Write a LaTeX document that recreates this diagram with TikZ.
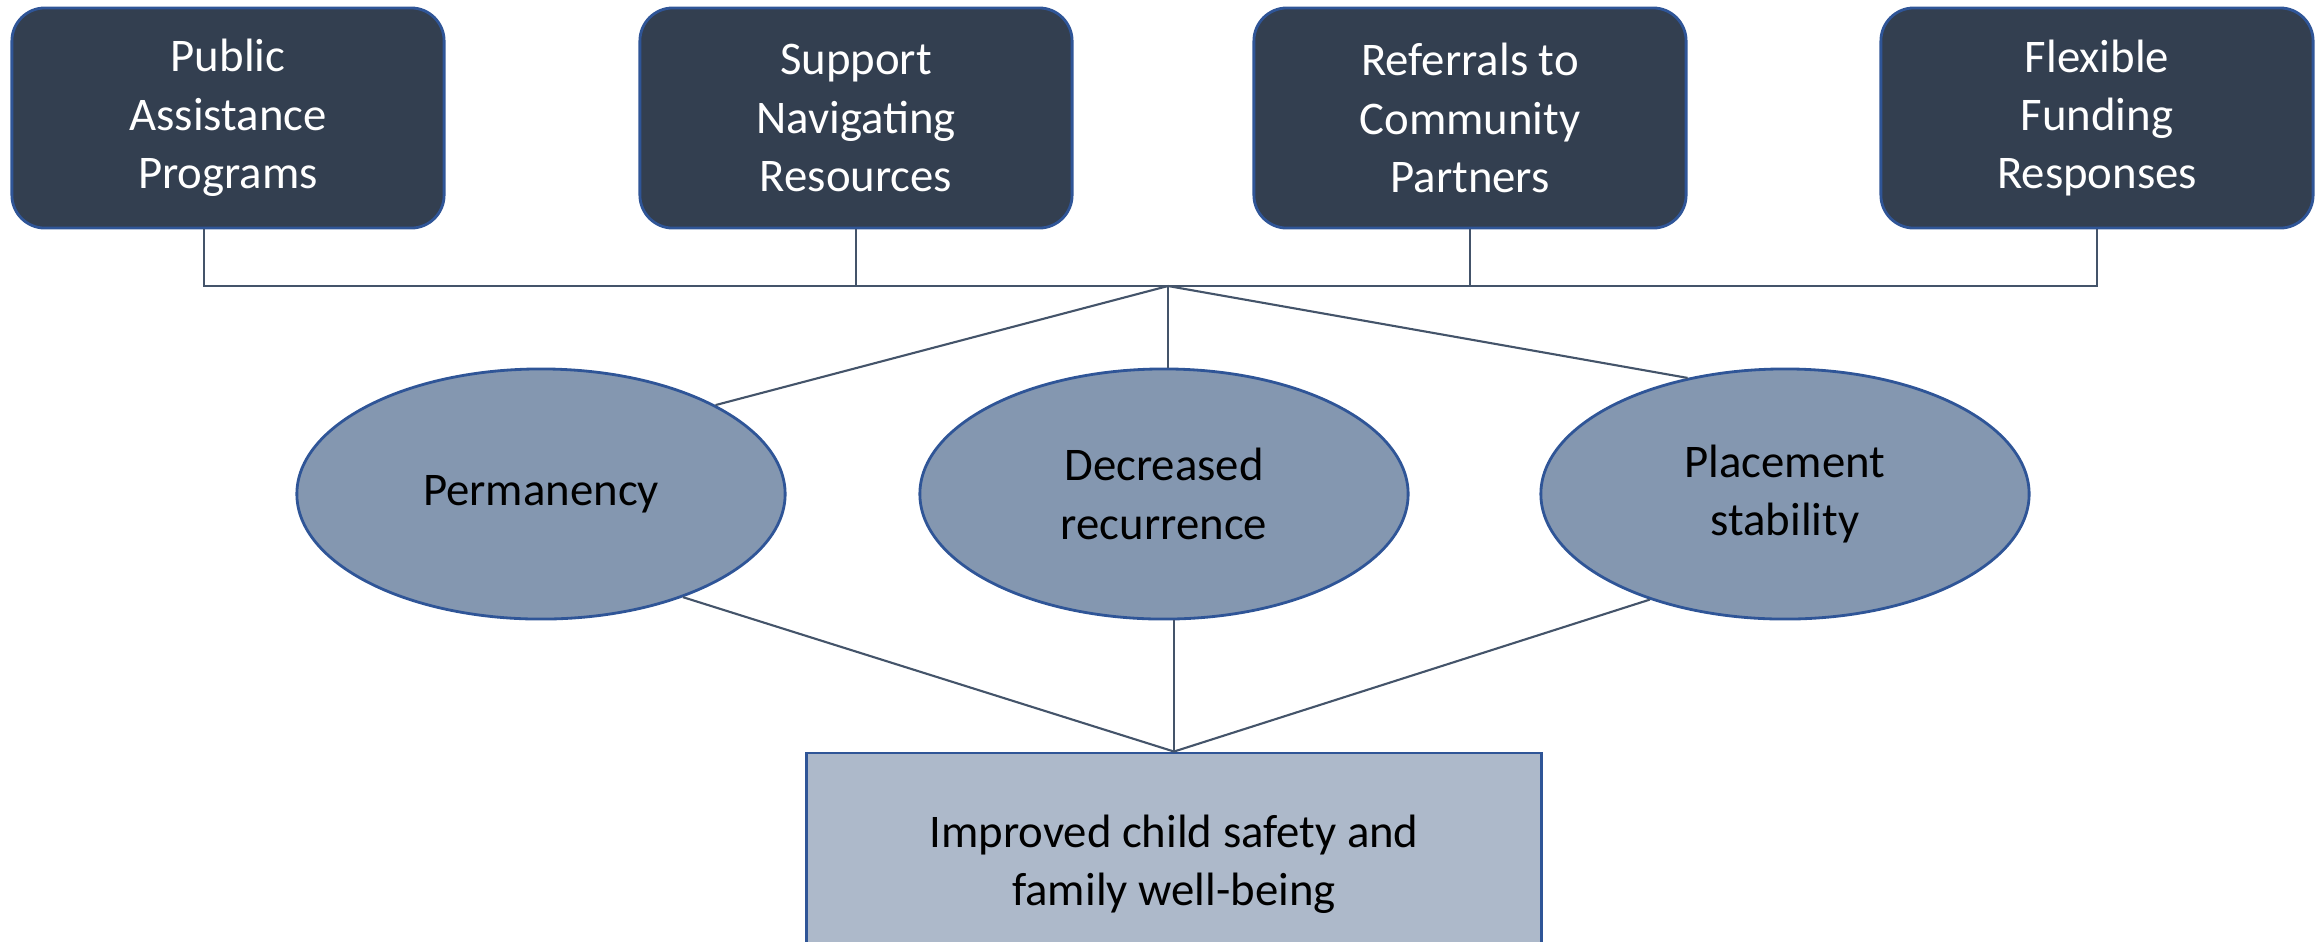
\documentclass[tikz,border=0pt]{standalone}
\usepackage{fontspec}
\setmainfont{Carlito}
\usetikzlibrary{shapes.geometric}
\definecolor{navybox}{HTML}{333F50}
\definecolor{edgeblue}{HTML}{2F5597}
\definecolor{midblue}{HTML}{8497B0}
\definecolor{paleblue}{HTML}{ADB9CA}
\definecolor{linkgray}{HTML}{44546A}
\begin{document}
\begin{tikzpicture}[
		x=0.01cm, y=-0.01cm,
		every node/.style={font=\fontsize{13.3}{16.6}\selectfont, align=center},
		service/.style={rectangle, rounded corners=0.33cm, draw=edgeblue, line width=0.8pt, fill=navybox, text=white, minimum width=4.32cm, minimum height=2.2cm, inner sep=0pt},
		result/.style={ellipse, draw=edgeblue, line width=0.8pt, fill=midblue, minimum width=4.88cm, minimum height=2.5cm, inner sep=0pt},
		goal/.style={rectangle, draw=edgeblue, line width=0.8pt, fill=paleblue, minimum width=7.35cm, minimum height=2.22cm, inner sep=0pt},
		link/.style={-, draw=linkgray, line width=0.6pt}
	]
	\useasboundingbox (0,0) rectangle (2320,941);

	% Services
	\node[service] (pub) at (228,118) {Public\\Assistance\\Programs};
	\node[service] (supp) at (856,118) {Support\\Navigating\\Resources};
	\node[service] (refer) at (1470,118) {Referrals to\\Community\\Partners};
	\node[service] (fund) at (2097,118) {Flexible\\Funding\\Responses};

	% Outcomes
	\node[result] (perm) at (541,494) {Permanency};
	\node[result] (decr) at (1164,494) {Decreased\\recurrence};
	\node[result] (place) at (1785,494) {Placement\\stability};

	% Goal
	\node[goal] (goal) at (1174,864) {Improved child safety and\\family well-being};

	% Bus
	\coordinate (hub) at (1168,286);
	\draw[link] ([xshift=-0.24cm]pub.south) |- (hub) -| (fund.south);
	\draw[link] (supp.south) -- (supp.south |- hub);
	\draw[link] (refer.south) -- (refer.south |- hub);

	% Hub to outcomes
	\draw[link] (hub) -- (perm.27);
	\draw[link] (hub) -- (hub |- decr.north);
	\draw[link] (hub) -- (place.130);

	% Outcomes to goal
	\draw[link] (perm.-36) -- (goal.north);
	\draw[link] (goal.north |- decr.south) -- (goal.north);
	\draw[link] (place.218) -- (goal.north);

\end{tikzpicture}
\end{document}
